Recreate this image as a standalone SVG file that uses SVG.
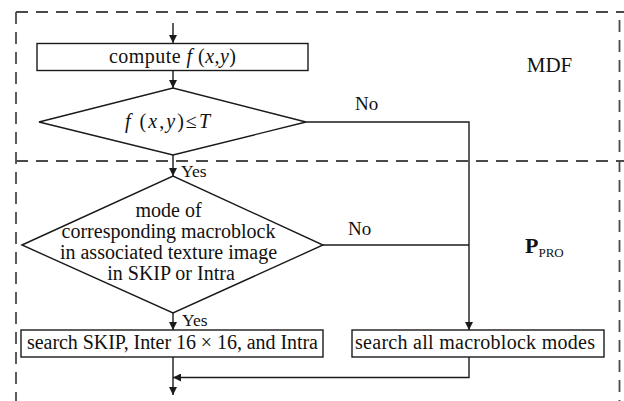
<svg xmlns="http://www.w3.org/2000/svg" width="624" height="401" viewBox="0 0 624 401">
<style>
  .shape { fill: #fff; stroke: #1a1a1a; stroke-width: 1.4; }
  .conn { fill: none; stroke: #1a1a1a; stroke-width: 1.4; }
  .dash { fill: none; stroke: #4a4a4a; stroke-width: 1.8; stroke-dasharray: 12 8; }
  text { font-family: "Liberation Serif", "Times New Roman", serif; fill: #111; }
  .t { font-size: 20px; }
  .lbl { font-size: 19px; }
  .yes { font-size: 17.5px; }
  .i { font-style: italic; }
</style>
<defs>
  <marker id="arrow" viewBox="0 0 8 8" markerWidth="8" markerHeight="8" refX="8" refY="4" orient="auto" markerUnits="userSpaceOnUse">
    <path d="M0,0 L8,4 L0,8 Z" fill="#1a1a1a"/>
  </marker>
</defs>
<rect width="624" height="401" fill="#fff"/>

<g id="regions">
  <line class="dash" x1="16" y1="12" x2="624" y2="12"/>
  <line class="dash" x1="16" y1="12" x2="16" y2="401"/>
  <line class="dash" x1="619.5" y1="20" x2="619.5" y2="401"/>
  <line class="dash" x1="16" y1="161" x2="624" y2="161"/>
  <text x="549.5" y="72" font-size="21" text-anchor="middle">MDF</text>
  <text x="525" y="253" font-size="22" font-weight="bold">P<tspan font-size="13" font-weight="normal" dy="4">PRO</tspan></text>
</g>

<g id="connectors">
  <line class="conn" x1="173" y1="23" x2="173" y2="43" marker-end="url(#arrow)"/>
  <line class="conn" x1="173" y1="71" x2="173" y2="88" marker-end="url(#arrow)"/>
  <line class="conn" x1="173" y1="155" x2="173" y2="176" marker-end="url(#arrow)"/>
  <polyline class="conn" points="306,122 469,122 469,330" marker-end="url(#arrow)"/>
  <line class="conn" x1="323" y1="245" x2="469" y2="245"/>
  <line class="conn" x1="173" y1="313" x2="173" y2="330" marker-end="url(#arrow)"/>
  <line class="conn" x1="173" y1="357" x2="173" y2="395" marker-end="url(#arrow)"/>
  <polyline class="conn" points="469,357 469,377.5 173,377.5" marker-end="url(#arrow)"/>
  <text class="yes" x="181" y="177">Yes</text>
  <text class="lbl" x="355" y="110">No</text>
  <text class="lbl" x="348" y="234.5">No</text>
  <text class="yes" x="182" y="326">Yes</text>
</g>

<g id="compute">
  <rect class="shape" x="37" y="43.5" width="271" height="27"/>
  <text class="t" x="109" y="63" textLength="127">compute <tspan class="i">f</tspan> (<tspan class="i">x</tspan>,<tspan class="i">y</tspan>)</text>
</g>

<g id="threshold">
  <polygon class="shape" points="39,122 173,88 306,122 173,155"/>
  <text class="t" x="125" y="128" textLength="85"><tspan class="i">f</tspan> (<tspan class="i">x</tspan>,<tspan class="i">y</tspan>)≤<tspan class="i">T</tspan></text>
</g>

<g id="mode-check">
  <polygon class="shape" points="22,245 173,176 323,245 173,313"/>
  <text class="t" text-anchor="middle">
    <tspan x="171" y="217">mode of</tspan>
    <tspan x="171" y="238">corresponding macroblock</tspan>
    <tspan x="171" y="259">in associated texture image</tspan>
    <tspan x="171" y="280">in SKIP or Intra</tspan>
  </text>
</g>

<g id="search-subset">
  <rect class="shape" x="21" y="330" width="302" height="27"/>
  <text class="t" x="27" y="349" textLength="291">search SKIP, Inter 16 × 16, and Intra</text>
</g>

<g id="search-all">
  <rect class="shape" x="352" y="330" width="252" height="27"/>
  <text class="t" x="355" y="348.5" textLength="240">search all macroblock modes</text>
</g>
</svg>
